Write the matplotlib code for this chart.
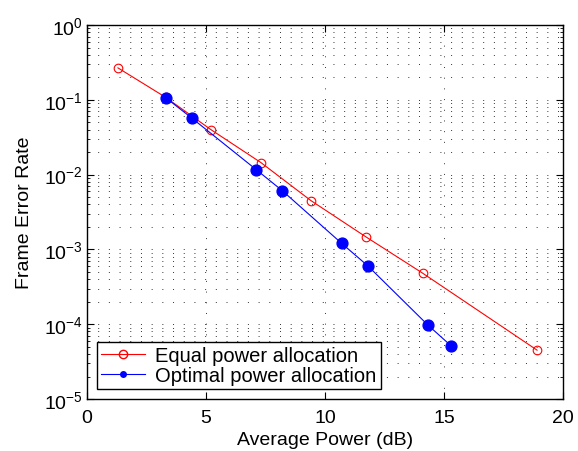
import matplotlib
matplotlib.use("Agg")
import matplotlib.pyplot as plt
from matplotlib.lines import Line2D
from matplotlib.ticker import LogLocator, NullFormatter

plt.rcParams['font.family'] = ['Liberation Sans', 'DejaVu Sans']

# equal power allocation (red, open circles)
equal_db = [1.3, 3.3, 5.2, 7.3, 9.4, 11.7, 14.1, 18.9]
equal_fer = [0.267, 0.108, 0.040, 0.0145, 0.0045, 0.00148, 0.00048, 0.000045]

# optimal power allocation (blue, filled dots)
opt_db = [3.3, 4.4, 7.1, 8.2, 10.7, 11.8, 14.3, 15.3]
opt_fer = [0.107, 0.057, 0.0117, 0.0061, 0.0012, 0.0006, 0.0000985, 0.000051]

xticks = [0, 5, 10, 15, 20]

fig = plt.figure(figsize=(5.78, 4.52), dpi=100)
ax = fig.add_axes([0.1505, 0.115, 0.824, 0.8275])

ax.semilogy(equal_db, equal_fer, color='red', lw=0.8, marker='o', ms=6.2,
            mfc='none', mec='red', mew=0.8)
ax.semilogy(opt_db, opt_fer, color='blue', lw=0.8, marker='o', ms=7.8,
            mfc='blue', mec='blue')

ax.set_xlim(0, 20)
ax.set_ylim(1e-5, 1)
ax.set_xticks(xticks)
ax.yaxis.set_major_locator(LogLocator(base=10, numticks=10))
ax.yaxis.set_minor_locator(LogLocator(base=10, subs=range(2, 10), numticks=20))
ax.yaxis.set_minor_formatter(NullFormatter())

dots = (0, (1, 10))
ax.grid(True, which='major', axis='both', color='0.2', ls=dots, lw=0.7)
ax.grid(True, which='minor', axis='y', color='0.2', ls=dots, lw=0.7)

ax.tick_params(which='both', direction='in', top=True, right=True, labelsize=14)
ax.tick_params(which='major', length=5)
ax.tick_params(which='minor', length=2.5)
ax.tick_params(axis='x', pad=7)
ax.tick_params(axis='y', pad=3)
for s in ax.spines.values():
    s.set_linewidth(1.0)

ax.set_xlabel('Average Power (dB)', fontsize=14, labelpad=4)
ax.set_ylabel('Frame Error Rate', fontsize=14, labelpad=8)

handles = [
    Line2D([], [], color='red', lw=0.8, marker='o', ms=6, mfc='none', mec='red'),
    Line2D([], [], color='blue', lw=0.8, marker='o', ms=4, mfc='blue', mec='blue'),
]
leg = ax.legend(handles, ['Equal power allocation', 'Optimal power allocation'],
                loc='lower left', bbox_to_anchor=(0.021, 0.026), fontsize=14.5,
                fancybox=False, framealpha=1, edgecolor='black',
                handlelength=2.2, borderpad=0.2, labelspacing=0.05,
                handletextpad=0.5, borderaxespad=0)
leg.get_frame().set_linewidth(1.0)

fig.savefig('out.png', dpi=100)
